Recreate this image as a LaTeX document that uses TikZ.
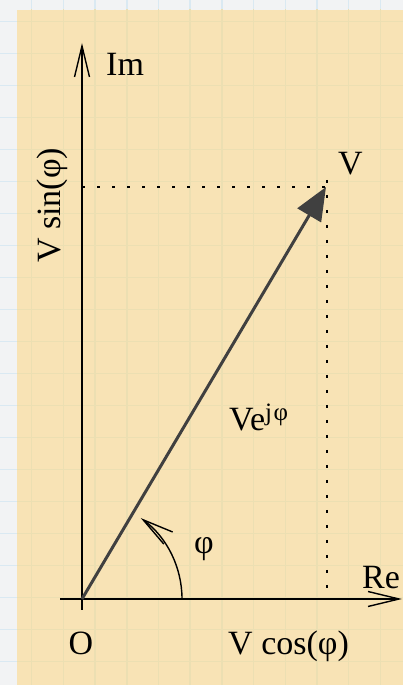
\documentclass[tikz,border=0pt]{standalone}
\usepackage{fontspec}
\setmainfont{Liberation Serif}
\usetikzlibrary{arrows.meta}
\definecolor{paper}{RGB}{242,243,244}
\definecolor{gridblue}{RGB}{218,233,242}
\definecolor{tanbg}{RGB}{248,227,181}
\definecolor{tangrid}{RGB}{236,223,178}
\definecolor{vecgray}{RGB}{64,64,64}
\begin{document}
\begin{tikzpicture}[x=1pt,y=1pt,
  lbl/.style={inner sep=0pt, font=\fontsize{34}{40}\selectfont},
  barb/.style={-{Straight Barb[length=31pt,width=15pt,line width=1.4pt]}},
  axis/.style={line width=1.4pt, barb},
  dots/.style={line width=2.4pt, dash pattern=on 2.6pt off 12.4pt},
  gridline/.style={line width=1.5pt}]
\useasboundingbox (0,0) rectangle (403,685);
\fill[paper] (0,0) rectangle (403,685);
\foreach \i in {1,...,12} \draw[gridblue, gridline] ({31.7*\i},0) -- ({31.7*\i},685);
\foreach \j in {0,...,21} \draw[gridblue, gridline] (0,{685-21.7-32*\j}) -- (403,{685-21.7-32*\j});
\fill[tanbg] (17,0) rectangle (403,675);
\begin{scope}
\clip (17,0) rectangle (403,675);
\foreach \i in {1,...,12} \draw[tangrid, gridline] ({31.7*\i},0) -- ({31.7*\i},685);
\foreach \j in {0,...,21} \draw[tangrid, gridline] (0,{685-21.7-32*\j}) -- (403,{685-21.7-32*\j});
\end{scope}
\coordinate (O) at (82,86);
\coordinate (ybot) at (82,75);
\coordinate (ytop) at (82,642);
\coordinate (xl) at (60,86);
\coordinate (xr) at (402,86);
\coordinate (V) at (326,498);
\coordinate (hd0) at (82,498);
\coordinate (hd1) at (334,498);
\coordinate (vd0) at (327,505);
\coordinate (vd1) at (327,86);
\coordinate (arcstart) at (182,86);
\draw[axis] (ybot) -- (ytop);
\draw[axis] (xl) -- (xr);
\draw[dots] (hd0) -- (hd1);
\draw[dots] (vd0) -- (vd1);
\draw[vecgray, line width=3pt, -{Triangle[length=33pt,width=27pt]}] (O) -- (V);
\draw[line width=1.4pt, barb] (arcstart) arc[start angle=0, end angle=54, radius=100];
\node[lbl, anchor=base west] (im) at (106,609) {Im};
\node[lbl, anchor=base west] (vl) at (338,510) {V};
\node[lbl, anchor=base west] (vej) at (229,254) {Ve\raisebox{10pt}{\fontsize{25}{30}\selectfont j\kern1.5pt φ}};
\node[lbl] (phi) at (204,136) {φ};
\node[lbl, anchor=base west] (re) at (362,96) {Re};
\node[lbl, anchor=base] (o) at (81,30) {O};
\node[lbl, anchor=base west] (vcos) at (228,30) {V cos(φ)};
\node[lbl, anchor=base west, rotate=90] (vsin) at (60,422) {V sin(φ)};
\end{tikzpicture}
\end{document}
